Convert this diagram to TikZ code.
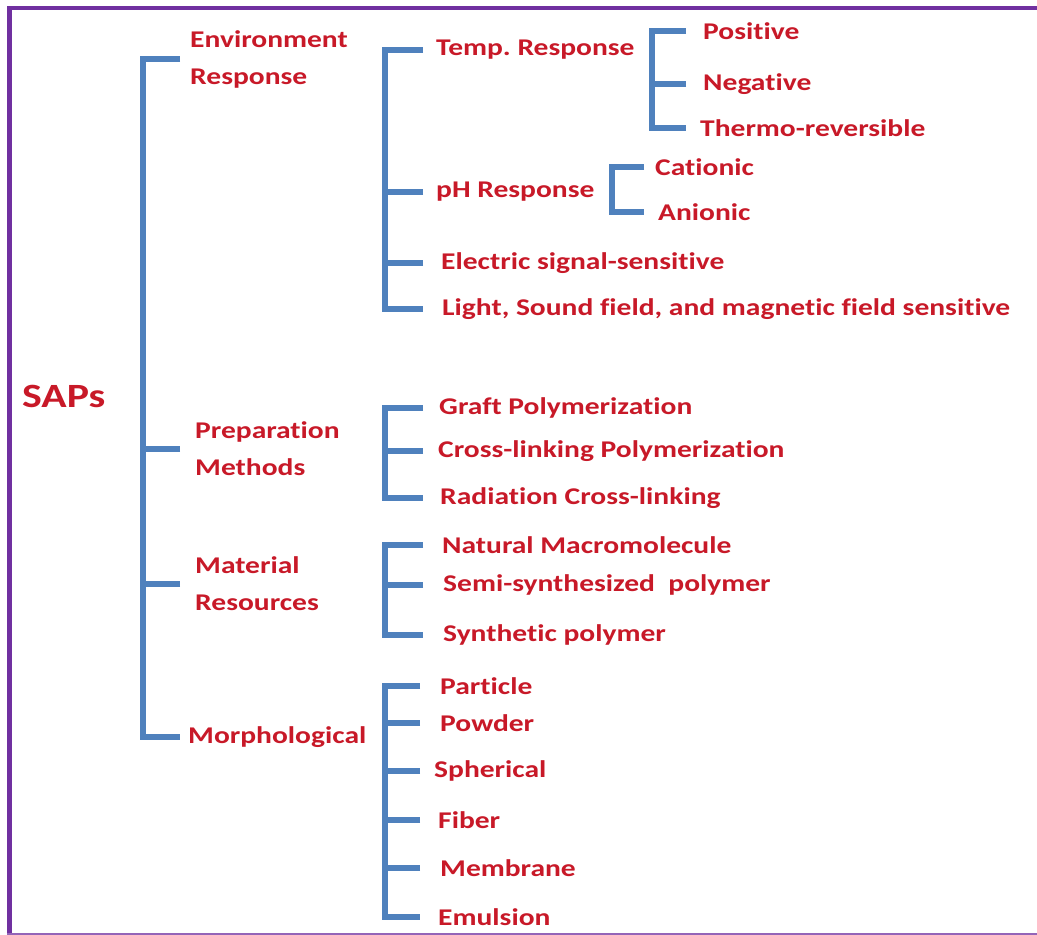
\documentclass[tikz,border=0pt]{standalone}
\usepackage{fontspec}
\setmainfont{Carlito}[FakeStretch=1.23,Ligatures=CommonOff]
\definecolor{txtred}{RGB}{200,25,40}
\definecolor{brblue}{RGB}{79,129,189}
\definecolor{framepurple}{RGB}{112,48,160}
\frenchspacing
\begin{document}
\begin{tikzpicture}[x=1pt,y=-1pt,
  lbl/.style={anchor=west,inner sep=0pt,text=txtred,font=\fontsize{24}{37}\selectfont\bfseries,align=left},
  br/.style={draw=brblue,line width=6pt,line join=miter},
]
\useasboundingbox (0,0) rectangle (1037,935);
\fill[white] (0,0) rectangle (1037,935);
\fill[framepurple] (7,6) rectangle (1037,10);
\fill[framepurple] (7,6) rectangle (12,935);
\fill[framepurple!75] (7,933) rectangle (1037,935);

% root
\node[lbl,font=\fontsize{34}{38}\selectfont\bfseries] (saps) at (22,396) {SAPs};

% level 1
\node[lbl] (env) at (190,59) {Environment\\Response};
\node[lbl] (prep) at (195,449) {Preparation\\Methods};
\node[lbl] (mat) at (195,584) {Material\\Resources};
\node[lbl] (morph) at (188,737) {Morphological};

% environment children
\node[lbl] (temp) at (436,50) {Temp.\ Response};
\node[lbl] (ph) at (436,192) {pH Response};
\node[lbl] (elec) at (441,263) {Electric signal-sensitive};
\node[lbl] (light) at (442,309) {Light, Sound field, and magnetic field sensitive};

% temp children
\node[lbl] (pos) at (703,31) {Positive};
\node[lbl] (neg) at (703,84) {Negative};
\node[lbl] (thermo) at (700,128) {Thermo-reversible};

% pH children
\node[lbl] (cat) at (655,167) {Cationic};
\node[lbl] (ani) at (658,212) {Anionic};

% preparation children
\node[lbl] (graft) at (439,408) {Graft Polymerization};
\node[lbl] (cross) at (438,451) {Cross-linking Polymerization};
\node[lbl] (rad) at (440,498) {Radiation Cross-linking};

% material children
\node[lbl] (nat) at (442,545) {Natural Macromolecule};
\node[lbl] (semi) at (443,585) {Semi-synthesized\ \ polymer};
\node[lbl] (syn) at (443,635) {Synthetic polymer};

% morphological children
\node[lbl] (part) at (440,686) {Particle};
\node[lbl] (powd) at (440,723) {Powder};
\node[lbl] (sphe) at (434,771) {Spherical};
\node[lbl] (fib) at (438,820) {Fiber};
\node[lbl] (memb) at (440,868) {Membrane};
\node[lbl] (emul) at (438,917) {Emulsion};

% bracket coordinates
\coordinate (rS) at (143,0);  \coordinate (rE) at (180,0);
\coordinate (aS) at (385,0);  \coordinate (aE) at (423,0);
\coordinate (tS) at (652,0);  \coordinate (tE) at (686,0);
\coordinate (pS) at (612,0);  \coordinate (pE) at (644,0);
\coordinate (mS) at (385,0);  \coordinate (mE) at (420,0);

% root bracket
\draw[br] (env.west -| rE) -- (env.west -| rS) -- (morph.west -| rS) -- (morph.west -| rE);
\draw[br] (prep.west -| rE) -- (prep.west -| rS);
\draw[br] (mat.west -| rE) -- (mat.west -| rS);

% environment bracket
\draw[br] (temp.west -| aE) -- (temp.west -| aS) -- (light.west -| aS) -- (light.west -| aE);
\draw[br] (ph.west -| aE) -- (ph.west -| aS);
\draw[br] (elec.west -| aE) -- (elec.west -| aS);

% temp bracket
\draw[br] (pos.west -| tE) -- (pos.west -| tS) -- (thermo.west -| tS) -- (thermo.west -| tE);
\draw[br] (neg.west -| tE) -- (neg.west -| tS);

% pH bracket
\draw[br] (cat.west -| pE) -- (cat.west -| pS) -- (ani.west -| pS) -- (ani.west -| pE);

% preparation bracket
\draw[br] (graft.west -| aE) -- (graft.west -| aS) -- (rad.west -| aS) -- (rad.west -| aE);
\draw[br] (cross.west -| aE) -- (cross.west -| aS);

% material bracket
\draw[br] (nat.west -| aE) -- (nat.west -| aS) -- (syn.west -| aS) -- (syn.west -| aE);
\draw[br] (semi.west -| aE) -- (semi.west -| aS);

% morphological bracket
\draw[br] (part.west -| mE) -- (part.west -| mS) -- (emul.west -| mS) -- (emul.west -| mE);
\draw[br] (powd.west -| mE) -- (powd.west -| mS);
\draw[br] (sphe.west -| mE) -- (sphe.west -| mS);
\draw[br] (fib.west -| mE) -- (fib.west -| mS);
\draw[br] (memb.west -| mE) -- (memb.west -| mS);
\end{tikzpicture}
\end{document}
